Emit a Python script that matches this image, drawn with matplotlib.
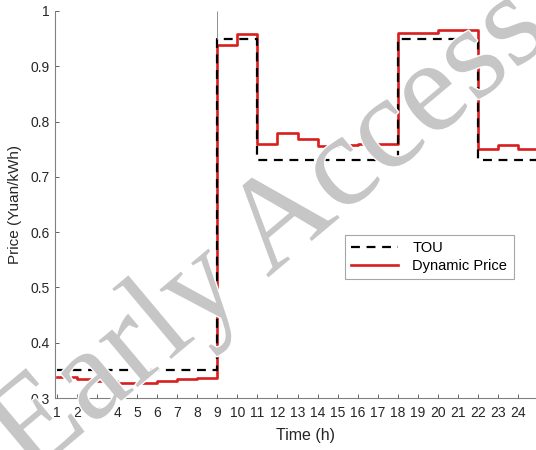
import matplotlib
matplotlib.use("Agg")
import matplotlib.pyplot as plt
import matplotlib.patheffects as pe
import numpy as np

hours = list(range(1, 25))
tou = [0.35]*8 + [0.95]*2 + [0.73]*7 + [0.95]*4 + [0.73]*3
dynamic = [0.338, 0.334, 0.330, 0.327, 0.327, 0.331, 0.334, 0.337,
           0.938, 0.958,
           0.760, 0.780, 0.768, 0.756, 0.758, 0.760, 0.760,
           0.961, 0.960, 0.965, 0.965,
           0.750, 0.757, 0.750]
yticks = [0.3, 0.4, 0.5, 0.6, 0.7, 0.8, 0.9, 1]
ytick_labels = ["0.3", "0.4", "0.5", "0.6", "0.7", "0.8", "0.9", "1"]

plt.rcParams['font.family'] = ['Liberation Sans', 'DejaVu Sans']

fig = plt.figure(figsize=(5.36, 4.5), dpi=100)
ax = fig.add_axes([55/536, 1 - 398/450, 1 - 55/536, (398 - 11)/450])

hx = hours + [hours[-1] + 1]
ax.step(hx, tou + [tou[-1]], where='post', color='black', lw=1.6,
        linestyle=(0, (4, 3)), label='TOU', zorder=3)
ax.step(hx, dynamic + [dynamic[-1]], where='post', color='#d81e1e', lw=1.9,
        label='Dynamic Price', zorder=2)
ax.vlines(hours[8], tou[8], 1.0, color='#909090', lw=0.7, zorder=1)

ax.set_xlim(0.9, 24.9)
ax.set_ylim(0.3, 1.0)
ax.set_xticks(hours)
ax.set_xticklabels([str(h) for h in hours])
ax.set_yticks(yticks)
ax.set_yticklabels(ytick_labels)
for s in ['top', 'right']:
    ax.spines[s].set_visible(False)
for s in ['left', 'bottom']:
    ax.spines[s].set_color('#808080')
    ax.spines[s].set_linewidth(0.8)
ax.tick_params(direction='in', length=3, width=0.7, color='#606060',
               labelsize=10, labelcolor='#262626', pad=4)
ax.tick_params(axis='x', pad=6)
ax.set_xlabel('Time (h)', fontsize=11.5, color='#262626')
ax.xaxis.set_label_coords((306 - 55)/481, -(428 - 398)/387)
ax.set_ylabel('Price (Yuan/kWh)', fontsize=11, color='#262626')
ax.yaxis.set_label_coords(-(55 - 22)/481, 0.5)

leg = ax.legend(loc='lower left', bbox_to_anchor=(0.603, 0.307, 0.351, 0.119),
                mode='expand', borderaxespad=0, fontsize=10.5, frameon=True,
                fancybox=False, handlelength=3.2, borderpad=0.4,
                labelspacing=0.3, handletextpad=1.0)
leg.get_frame().set_edgecolor('#909090')
leg.get_frame().set_linewidth(0.8)

fig.text(0.505, 0.48, 'Early Access', fontsize=95, family='Liberation Serif',
         rotation=40, ha='center', va='center', color='#c6c6c6',
         zorder=10,
         path_effects=[pe.withStroke(linewidth=2, foreground='white')])

fig.savefig('out.png', dpi=100)
